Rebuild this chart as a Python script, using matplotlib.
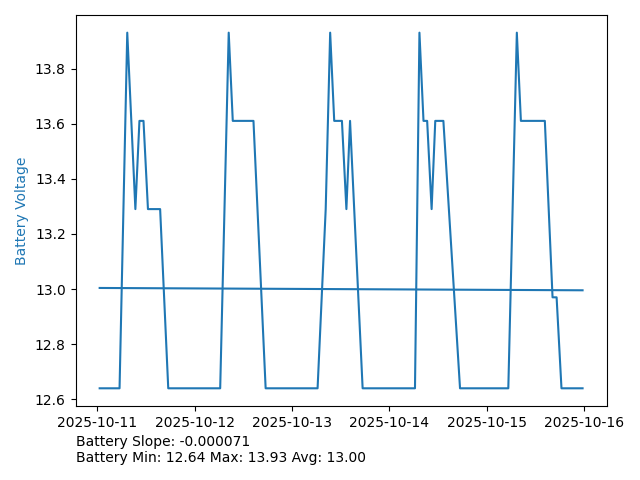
import matplotlib
matplotlib.use("Agg")
import matplotlib.pyplot as plt
import matplotlib.dates as mdates
import numpy as np
import pandas as pd

# hours since 2025-10-11 00:00 and battery voltage
hours = [0.6, 5.5, 7.4, 9.4, 10.4, 11.4, 12.5, 15.5, 17.5,
         30.3, 32.4, 33.4, 38.5, 41.5,
         54.3, 56.3, 57.4, 58.4, 60.3, 61.4, 62.3, 65.4,
         78.3, 79.4, 80.4, 81.3, 82.4, 83.3, 85.3, 89.4,
         101.3, 103.4, 104.4, 110.3, 112.2, 113.2, 114.4, 119.6]
voltage = [12.64, 12.64, 13.93, 13.29, 13.61, 13.61, 13.29, 13.29, 12.64,
           12.64, 13.93, 13.61, 13.61, 12.64,
           12.64, 13.29, 13.93, 13.61, 13.61, 13.29, 13.61, 12.64,
           12.64, 13.93, 13.61, 13.61, 13.29, 13.61, 13.61, 12.64,
           12.64, 13.93, 13.61, 13.61, 12.97, 12.97, 12.64, 12.64]

start = pd.Timestamp("2025-10-11 00:00")
slope = -0.000071      # volts per hour
intercept = 13.004
v_min, v_max, v_avg = 12.64, 13.93, 13.00

times = start + pd.to_timedelta(hours, unit="h")
trend = intercept + slope * np.array(hours)

fig, ax = plt.subplots(figsize=(6.4, 4.8), dpi=100)
ax.plot(times, voltage, color="tab:blue")
ax.plot(times, trend, color="tab:blue")
ax.set_ylabel("Battery Voltage", color="tab:blue")
ax.xaxis.set_major_locator(mdates.DayLocator())
ax.xaxis.set_major_formatter(mdates.DateFormatter("%Y-%m-%d"))

fig.subplots_adjust(left=0.118, right=0.948, top=0.969, bottom=0.154)
fig.text(0.118, 0.031,
         f"Battery Slope: {slope:.6f}\n"
         f"Battery Min: {v_min:.2f} Max: {v_max:.2f} Avg: {v_avg:.2f}",
         ha="left", va="bottom")
fig.savefig("out.png")
